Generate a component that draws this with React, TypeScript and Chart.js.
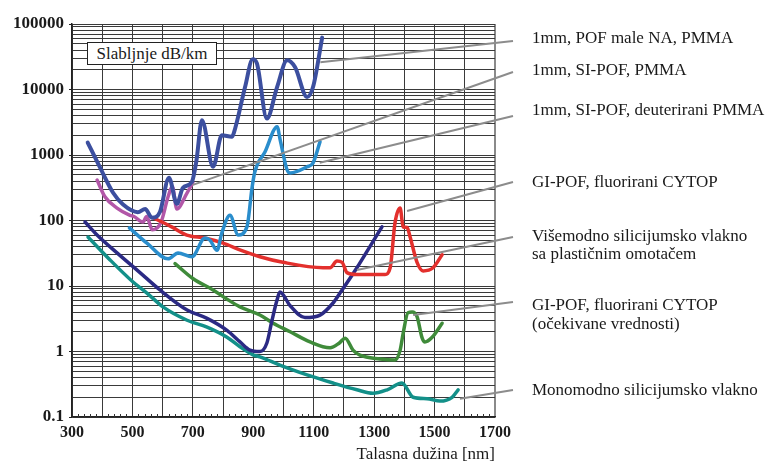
import React, { useEffect, useRef } from 'react';
import { Chart, registerables } from 'chart.js';

Chart.register(...registerables);

// ---------- data (wavelength nm / attenuation dB/km) ----------
const pofNaNm = [352, 393, 436, 469, 518, 542, 565, 591, 621, 647, 667, 697, 712, 730, 767, 796, 829, 836, 873, 898, 912, 945, 979, 1012, 1038, 1078, 1098, 1128];
const pofNaDb = [1550, 640, 265, 175, 134, 150, 110, 135, 450, 180, 315, 390, 830, 3400, 660, 2000, 1900, 2200, 11000, 29000, 25000, 3600, 11000, 28000, 22000, 7700, 11000, 62000];

const siPofNm = [490, 548, 618, 651, 697, 740, 757, 780, 796, 823, 850, 879, 896, 905, 939, 979, 989, 1012, 1022, 1078, 1098, 1121];
const siPofDb = [77, 45, 26, 32, 28, 54, 50, 35, 65, 120, 60, 80, 320, 550, 1120, 2700, 1700, 590, 530, 660, 760, 1600];

const deutNm = [383, 409, 449, 492, 505, 535, 547, 566, 595, 618, 632, 647, 681, 700];
const deutDb = [415, 230, 155, 120, 115, 95, 115, 72, 95, 230, 330, 150, 265, 380];

const cytopNm = [568, 630, 680, 740, 800, 860, 922, 998, 1131, 1154, 1177, 1194, 1210, 1243, 1336, 1353, 1369, 1386, 1396, 1409, 1419, 1442, 1462, 1495, 1525];
const cytopDb = [110, 80, 60, 54, 45, 35, 28, 23, 19, 19, 24, 23, 16, 15, 15, 19, 92, 155, 80, 78, 56, 23, 17, 19, 30];

const pcsNm = [343, 383, 449, 525, 591, 681, 747, 813, 856, 889, 922, 945, 962, 979, 988, 1022, 1071, 1121, 1164, 1187, 1243, 1286, 1326];
const pcsDb = [95, 60, 32, 16, 8.7, 4.3, 3.2, 2.1, 1.4, 1.05, 1.0, 1.35, 3.0, 6.2, 8.1, 5.0, 3.3, 3.6, 5.5, 7.8, 19, 40, 80];

const cytopExpNm = [641, 700, 767, 813, 856, 922, 966, 1022, 1088, 1154, 1185, 1204, 1230, 1253, 1319, 1369, 1386, 1396, 1412, 1426, 1442, 1459, 1468, 1492, 1525];
const cytopExpDb = [22, 13, 8.7, 6.3, 4.8, 3.6, 2.7, 2.0, 1.4, 1.14, 1.35, 1.6, 1.05, 0.88, 0.77, 0.74, 1.05, 1.9, 3.9, 4.0, 3.4, 1.6, 1.4, 1.65, 2.7];

const smfNm = [353, 426, 502, 548, 601, 681, 747, 813, 856, 899, 922, 988, 1078, 1164, 1243, 1296, 1343, 1392, 1429, 1475, 1518, 1558, 1578];
const smfDb = [56, 25, 11.5, 7.8, 4.8, 3.0, 2.35, 1.65, 1.18, 0.89, 0.83, 0.62, 0.44, 0.33, 0.26, 0.23, 0.26, 0.33, 0.20, 0.19, 0.175, 0.20, 0.26];

const yTickLabels = ['0.1', '1', '10', '100', '1000', '10000', '100000'];
const xTickLabels = ['300', '500', '700', '900', '1100', '1300', '1500', '1700'];

const seriesLabels = [
  ['1mm, POF male NA, PMMA'],
  ['1mm, SI-POF, PMMA'],
  ['1mm, SI-POF, deuterirani PMMA'],
  ['GI-POF, fluorirani CYTOP'],
  ['Višemodno silicijumsko vlakno', 'sa plastičnim omotačem'],
  ['GI-POF, fluorirani CYTOP', '(očekivane vrednosti)'],
  ['Monomodno silicijumsko vlakno'],
];
const yAxisTitle = 'Slabljnje dB/km';
const xAxisTitle = 'Talasna dužina [nm]';

// leader line anchor points on the curves (nm, dB/km)
const leaderNm = [1122, 700, 1120, 1409, 1243, 1429, 1584];
const leaderDb = [26000, 350, 760, 140, 17.5, 3.6, 0.19];

// ---------- layout / style ----------
const W = 771;
const H = 465;
const LABEL_X = 532;
const LEADER_END_X = 513;
const leaderEndY = [41, 72, 116, 182, 237, 302, 390];
const labelCenterY = [[38], [70], [110], [182], [236, 254], [305, 324], [390]];
const SERIF = "'Liberation Serif', 'Times New Roman', serif";

const pts = (xs: number[], ys: number[]) => xs.map((x, i) => ({ x, y: ys[i] }));

const isDecade = (v: number) => {
  const l = Math.log10(v);
  return Math.abs(l - Math.round(l)) < 1e-9;
};

const minorTicksPlugin = {
  id: 'minorTicks',
  afterDraw(chart: any) {
    const ctx = chart.ctx;
    const xs = chart.scales.x;
    const area = chart.chartArea;
    ctx.save();
    ctx.strokeStyle = '#333';
    ctx.lineWidth = 1;
    for (let v = 300; v <= 1700; v += 20) {
      if (v % 100 === 0) continue;
      const x = Math.round(xs.getPixelForValue(v)) + 0.5;
      ctx.beginPath();
      ctx.moveTo(x, area.bottom);
      ctx.lineTo(x, area.bottom - 3);
      ctx.stroke();
    }
    ctx.restore();
  },
};

const leaderPlugin = {
  id: 'leaders',
  afterDatasetsDraw(chart: any) {
    const ctx = chart.ctx;
    const xs = chart.scales.x;
    const ys = chart.scales.y;
    ctx.save();
    ctx.strokeStyle = '#8c8c8c';
    ctx.lineWidth = 2;
    leaderNm.forEach((nm, i) => {
      ctx.beginPath();
      ctx.moveTo(xs.getPixelForValue(nm), ys.getPixelForValue(leaderDb[i]));
      ctx.lineTo(LEADER_END_X, leaderEndY[i]);
      ctx.stroke();
    });
    ctx.restore();
  },
};

export default function App() {
  const ref = useRef<HTMLCanvasElement | null>(null);

  useEffect(() => {
    if (!ref.current) return;
    const mk = (label: string, xs: number[], ys: number[], color: string, width: number, order: number) => ({
      label,
      data: pts(xs, ys),
      borderColor: color,
      backgroundColor: color,
      borderWidth: width,
      pointRadius: 0,
      fill: false,
      cubicInterpolationMode: 'monotone' as const,
      borderCapStyle: 'round' as const,
      borderJoinStyle: 'round' as const,
      order,
    });

    const chart = new Chart(ref.current, {
      type: 'line',
      data: {
        datasets: [
          mk(seriesLabels[0][0], pofNaNm, pofNaDb, '#3c4f9f', 4, 1),
          mk(seriesLabels[1][0], siPofNm, siPofDb, '#2a8dcc', 3.5, 2),
          mk(seriesLabels[3][0], cytopNm, cytopDb, '#e3302d', 3.5, 3),
          mk(seriesLabels[2][0], deutNm, deutDb, '#b257a8', 3.5, 4),
          mk(seriesLabels[4][0], pcsNm, pcsDb, '#2b2a84', 3.5, 5),
          mk(seriesLabels[5][0], cytopExpNm, cytopExpDb, '#3f8b3a', 3.5, 6),
          mk(seriesLabels[6][0], smfNm, smfDb, '#139089', 3.5, 7),
        ],
      },
      options: {
        responsive: false,
        animation: false,
        events: [],
        layout: { padding: { top: 24, right: W - 495, left: 0, bottom: 0 } },
        plugins: { legend: { display: false }, tooltip: { enabled: false }, title: { display: false } },
        scales: {
          x: {
            type: 'linear',
            min: 300,
            max: 1700,
            afterFit: (s: any) => { s.height = 48; },
            afterBuildTicks: (s: any) => {
              const t = [];
              for (let v = 300; v <= 1700; v += 100) t.push({ value: v });
              s.ticks = t;
            },
            ticks: {
              autoSkip: false,
              maxRotation: 0,
              padding: 6,
              color: '#1a1a1a',
              font: { family: SERIF, size: 16, weight: 'bold' },
              callback: (v: any) => {
                const idx = xTickLabels.indexOf(String(v));
                return idx >= 0 ? xTickLabels[idx] : '';
              },
            },
            grid: {
              drawTicks: false,
              color: (c: any) => (c.tick && c.tick.value === 1700 ? '#8a8a8a' : '#3a3a3a'),
              lineWidth: (c: any) => (c.tick && c.tick.value === 1700 ? 2 : 1),
            },
            border: { display: true, color: '#222', width: 1.5 },
            title: {
              display: true,
              text: xAxisTitle,
              align: 'end',
              color: '#1a1a1a',
              font: { family: SERIF, size: 17 },
              padding: { top: 0, bottom: 0 },
            },
          },
          y: {
            type: 'logarithmic',
            min: 0.1,
            max: 100000,
            afterFit: (s: any) => { s.width = 72; },
            afterBuildTicks: (s: any) => {
              const t = [];
              for (let e = -1; e <= 5; e++) {
                for (let m = 1; m <= 9; m++) {
                  const v = m * Math.pow(10, e);
                  if (v > 100000 * 1.0001) break;
                  t.push({ value: parseFloat(v.toPrecision(6)) });
                }
              }
              s.ticks = t;
            },
            ticks: {
              autoSkip: false,
              padding: 5,
              color: '#1a1a1a',
              font: { family: SERIF, size: 17, weight: 'bold' },
              callback: (v: any) => {
                if (!isDecade(v)) return '';
                const idx = Math.round(Math.log10(v)) + 1;
                return yTickLabels[idx];
              },
            },
            grid: {
              drawTicks: true,
              tickLength: 3,
              color: '#3a3a3a',
              lineWidth: 1,
              tickColor: (c: any) => (c.tick && isDecade(c.tick.value) ? '#222' : 'rgba(0,0,0,0)'),
            },
            border: { display: true, color: '#222', width: 1.5 },
          },
        },
      },
      plugins: [minorTicksPlugin, leaderPlugin],
    } as any);
    return () => chart.destroy();
  }, []);

  return (
    <div style={{ position: 'absolute', left: 0, top: 0, width: W, height: H, background: '#fff', fontFamily: SERIF }}>
      <canvas ref={ref} width={W} height={H} style={{ position: 'absolute', left: 0, top: 0, width: W, height: H }} />
      <div
        style={{
          position: 'absolute', left: 87, top: 42, width: 128, height: 21,
          border: '1px solid #222', background: '#fff', color: '#1a1a1a',
          fontSize: 17, lineHeight: '21px', textAlign: 'center', whiteSpace: 'nowrap',
        }}
      >
        {yAxisTitle}
      </div>
      {seriesLabels.map((lines, i) =>
        lines.map((t, j) => (
          <div
            key={i + '-' + j}
            style={{
              position: 'absolute', left: LABEL_X, top: labelCenterY[i][j] - 10,
              fontSize: 17, lineHeight: '20px', color: '#1a1a1a', whiteSpace: 'nowrap',
            }}
          >
            {t}
          </div>
        ))
      )}
    </div>
  );
}
